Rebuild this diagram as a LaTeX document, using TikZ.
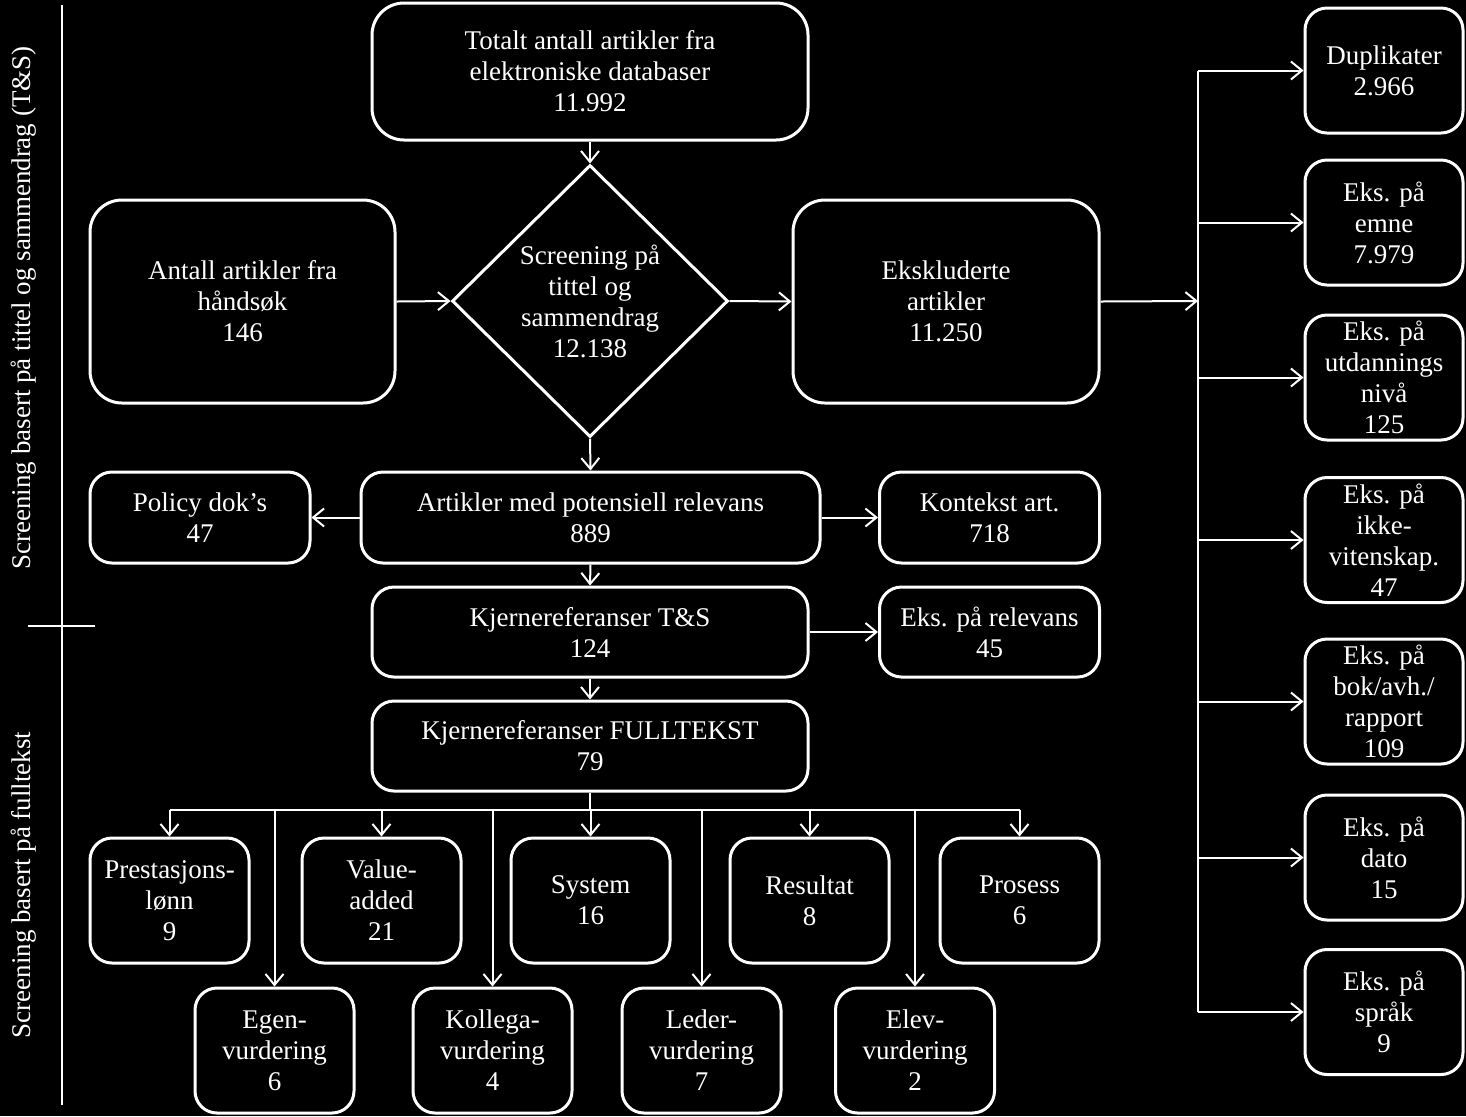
\documentclass[tikz,border=0pt]{standalone}
\usepackage{fontspec}
\setmainfont{Liberation Serif}
\usetikzlibrary{shapes.geometric,arrows.meta}
\begin{document}
\begin{tikzpicture}[x=0.5pt,y=-0.5pt,
  box/.style={draw=white, line width=1.5pt, rounded corners=11pt, text=white, align=center, inner sep=0pt,
    font=\fontsize{13.5}{15.5}\selectfont},
  bigbox/.style={box, rounded corners=16pt},
  wide/.style={minimum width=218pt, minimum height=45pt},
  small/.style={minimum width=110pt, minimum height=45.5pt},
  leaf/.style={minimum width=79.5pt, minimum height=62.5pt},
  rbox/.style={minimum width=79pt, minimum height=62.5pt},
  conn/.style={draw=white, line width=1pt},
  arr/.style={conn, -{Straight Barb[length=5.5pt,width=9pt,line width=1pt]}},
  sidelabel/.style={text=white, rotate=90, font=\fontsize{13.5}{15.5}\selectfont}
]
\fill[black] (0,0) rectangle (1466,1116);
\useasboundingbox (0,0) rectangle (1466,1116);

% left separators and labels
\coordinate (vt) at (62,5);
\coordinate (vb) at (62,1105);
\coordinate (tl) at (28,626);
\coordinate (tr) at (95,626);
\draw[conn] (vt) -- (vb);
\draw[conn] (tl) -- (tr);
\node[sidelabel] (lab1) at (24,308) {Screening basert på tittel og sammendrag (T\&S)};
\node[sidelabel] (lab2) at (24,885) {Screening basert på fulltekst};

% main flow
\node[bigbox, minimum width=218pt, minimum height=68.5pt] (top) at (590,71.5) {Totalt antall artikler fra\\elektroniske databaser\\11.992};
\node[bigbox, minimum width=152.5pt, minimum height=101.5pt] (hand) at (242.5,301.5) {Antall artikler fra\\håndsøk\\146};
\node[draw=white, line width=1.5pt, shape=diamond, inner sep=0pt, minimum width=138pt, minimum height=136pt, text=white, align=center, font=\fontsize{13.5}{15.5}\selectfont] (dia) at (590,301) {Screening på\\tittel og\\sammendrag\\12.138};
\node[bigbox, minimum width=153pt, minimum height=101.5pt] (excl) at (946,301.5) {Ekskluderte\\artikler\\11.250};

\node[box, small] (policy) at (200,517.5) {Policy dok’s\\47};
\node[box, minimum width=229.5pt, minimum height=45.5pt] (art) at (590.5,517.5) {Artikler med potensiell relevans\\889};
\node[box, small] (kont) at (989.5,517.5) {Kontekst art.\\718};
\node[box, wide] (kjts) at (590,632) {Kjernereferanser T\&S\\124};
\node[box, small, minimum height=45pt] (eksrel) at (989.5,632) {Eks. på relevans\\45};
\node[box, wide] (full) at (590,746) {Kjernereferanser FULLTEKST\\79};

% row 1
\node[box, leaf] (pres) at (169.5,900.5) {Prestasjons-\\lønn\\9};
\node[box, leaf] (val) at (381.5,900.5) {Value-\\added\\21};
\node[box, leaf] (sys) at (590.5,900.5) {System\\16};
\node[box, leaf] (res) at (809.5,900.5) {Resultat\\8};
\node[box, leaf] (pros) at (1019.5,900.5) {Prosess\\6};
% row 2
\node[box, leaf] (egen) at (274.5,1050.5) {Egen-\\vurdering\\6};
\node[box, leaf] (koll) at (492.5,1050.5) {Kollega-\\vurdering\\4};
\node[box, leaf] (led) at (701.5,1050.5) {Leder-\\vurdering\\7};
\node[box, leaf] (elev) at (915,1050.5) {Elev-\\vurdering\\2};

% right column
\node[box, rbox] (dup) at (1384,70.5) {Duplikater\\2.966};
\node[box, rbox] (emne) at (1384,222.5) {Eks. på\\emne\\7.979};
\node[box, rbox] (utd) at (1384,377.5) {Eks. på\\utdannings\\nivå\\125};
\node[box, rbox] (ikke) at (1384,540) {Eks. på\\ikke-\\vitenskap.\\47};
\node[box, rbox] (bok) at (1384,701.5) {Eks. på\\bok/avh./\\rapport\\109};
\node[box, rbox] (dato) at (1384,857.5) {Eks. på\\dato\\15};
\node[box, rbox] (spr) at (1384,1012) {Eks. på\\språk\\9};

% connectors main
\draw[arr] (top.south) -- (dia.north);
\draw[arr] (hand.east) -- (dia.west);
\draw[arr] (dia.east) -- (excl.west);
\draw[arr] (dia.south) -- (art.north);
\draw[arr] (art.west) -- (policy.east);
\draw[arr] (art.east) -- (kont.west);
\draw[arr] (art.south) -- (kjts.north);
\draw[arr] (kjts.east) -- (eksrel.west);
\draw[arr] (kjts.south) -- (full.north);

% bus to the right column
\coordinate (bus) at (1198,301);
\coordinate (bt) at (1198,70.5);
\coordinate (bb) at (1198,1012);
\draw[arr] (excl.east) -- (bus);
\draw[conn] (bt) -- (bb);
\foreach \n in {dup,emne,utd,ikke,bok,dato,spr}
  \draw[arr] (\n.west -| bt) -- (\n.west);

% tree to the bottom
\coordinate (split) at (590,810);
\draw[conn] (full.south) -- (split);
\draw[conn] (pres.north |- split) -- (pros.north |- split);
\foreach \n in {pres,val,sys,res,pros,egen,koll,led,elev}
  \draw[arr] (\n.north |- split) -- (\n.north);
\end{tikzpicture}
\end{document}
